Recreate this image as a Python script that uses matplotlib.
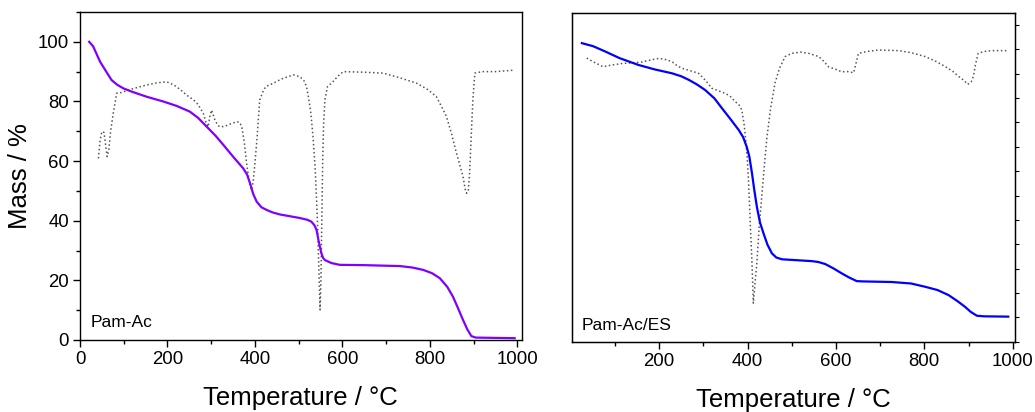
import numpy as np
import matplotlib
matplotlib.use("Agg")
import matplotlib.pyplot as plt
from matplotlib.ticker import MultipleLocator

plt.rcParams['font.family'] = ['Liberation Sans', 'DejaVu Sans']

# Pam-Ac: mass loss (TG) and derivative trace (DTG, drawn on the mass scale)
temp_a = [21, 30, 46, 60, 72, 85, 99, 120, 152, 190, 221, 251, 270, 290, 310, 328,
          350, 373, 382, 389, 396, 404, 415, 427, 440, 457, 480, 503, 520, 529, 536,
          541, 546, 552, 556, 560, 575, 594, 650, 700, 731, 760, 785, 805, 823, 840,
          853, 865, 876, 886, 895, 905, 950, 994]
mass_a = [100.0, 98.5, 93.3, 90.0, 87.2, 85.6, 84.4, 83.2, 81.6, 80.0, 78.5, 76.6, 74.5,
          71.5, 68.5, 65.4, 61.5, 57.6, 55.5, 52.5, 49.0, 46.4, 44.5, 43.6, 42.8, 42.1,
          41.5, 40.9, 40.3, 39.7, 38.5, 36.9, 33.0, 29.1, 27.5, 26.8, 25.8, 25.2, 25.1,
          24.9, 24.8, 24.3, 23.5, 22.4, 20.7, 17.8, 14.5, 10.5, 6.7, 3.5, 1.3, 0.8, 0.7, 0.6]

dtg_temp_a = [42, 46, 50, 55, 58, 62, 66, 70, 76, 84, 95, 114, 152, 175, 198, 215, 229,
              245, 259, 270, 282, 288, 293, 297, 301, 308, 315, 320, 330, 345, 358, 365,
              370, 376, 381, 387, 392, 396, 400, 405, 411, 419, 425, 442, 460, 488, 503,
              512, 518, 523, 528, 533, 538, 543, 547, 549, 551, 553, 555, 557, 560, 566,
              575, 590, 602, 650, 693, 730, 770, 795, 815, 826, 838, 850, 861, 870, 876,
              881, 884, 888, 891, 894, 897, 899, 903, 920, 950, 994]
dtg_a = [60.9, 67.0, 69.9, 69.6, 66.0, 61.5, 64.0, 70.0, 76.0, 82.8, 83.0, 84.0, 85.5,
         86.2, 86.6, 85.5, 84.0, 82.0, 80.6, 79.0, 76.0, 73.0, 71.5, 75.0, 77.1, 74.0,
         72.0, 71.5, 71.6, 72.5, 73.2, 73.0, 71.5, 66.0, 59.2, 53.0, 50.3, 53.0, 59.2,
         68.0, 80.5, 83.5, 85.0, 86.1, 87.5, 88.9, 88.3, 87.0, 85.0, 81.0, 76.0, 68.0,
         57.0, 40.0, 20.0, 10.1, 20.0, 40.0, 60.0, 72.0, 80.5, 85.0, 86.1, 88.5, 90.0,
         89.8, 89.5, 88.0, 86.1, 84.0, 81.6, 78.5, 75.0, 69.0, 62.6, 58.0, 54.8, 50.5,
         49.2, 50.0, 56.0, 66.0, 76.0, 81.6, 89.5, 90.0, 90.0, 90.5]

# Pam-Ac/ES
temp_b = [25, 50, 78, 110, 153, 190, 229, 250, 267, 285, 304, 325, 342, 360, 380, 390,
          398, 404, 410, 415, 421, 428, 436, 445, 455, 465, 478, 500, 545, 560, 576, 595,
          613, 630, 647, 660, 726, 770, 802, 830, 855, 875, 892, 905, 919, 935, 990]
mass_b = [100.0, 99.0, 97.2, 95.0, 92.7, 91.2, 89.9, 88.9, 87.7, 86.2, 84.3, 81.5, 78.2,
          74.8, 70.9, 68.5, 65.3, 62.0, 56.4, 51.0, 45.2, 40.0, 36.3, 32.5, 29.6, 28.2,
          27.6, 27.4, 27.0, 26.7, 26.0, 24.5, 22.9, 21.5, 20.3, 20.2, 20.0, 19.5, 18.4,
          17.3, 15.6, 13.6, 11.7, 10.0, 8.7, 8.5, 8.4]

dtg_temp_b = [36, 50, 73, 90, 116, 140, 161, 185, 199, 215, 229, 240, 251, 270, 289, 305,
              319, 335, 349, 360, 372, 380, 387, 392, 395, 399, 402, 406, 410, 413, 417,
              421, 426, 432, 438, 444, 452, 462, 472, 485, 500, 520, 538, 561, 572, 583,
              600, 613, 625, 640, 645, 651, 670, 696, 742, 770, 802, 825, 848, 865, 878,
              890, 898, 906, 911, 916, 922, 935, 952, 990]
dtg_b = [95.0, 93.8, 92.1, 92.6, 93.2, 93.4, 93.7, 94.5, 94.9, 94.5, 93.8, 92.5, 91.6,
         90.8, 89.9, 87.5, 84.9, 84.0, 83.2, 82.3, 80.4, 79.5, 77.6, 73.0, 68.7, 62.0,
         54.2, 40.0, 26.3, 12.9, 20.0, 26.3, 38.0, 48.6, 59.0, 68.7, 78.0, 86.6, 91.5,
         95.5, 96.6, 97.0, 96.6, 95.5, 94.0, 92.1, 91.2, 90.4, 90.5, 90.1, 93.0, 96.6,
         97.2, 97.7, 97.5, 96.8, 95.5, 94.0, 92.1, 90.5, 88.8, 87.5, 86.2, 87.0, 88.8,
         93.0, 96.6, 97.2, 97.5, 97.5]

fig = plt.figure(figsize=(10.35, 4.12), dpi=100)
ax1 = fig.add_axes([0.0773, 0.1748, 0.4267, 0.7961])
ax2 = fig.add_axes([0.5524, 0.1706, 0.4286, 0.7971])

ax1.plot(dtg_temp_a, dtg_a, ls=':', color='#555555', lw=1.1)
ax1.plot(temp_a, mass_a, color='#8000ff', lw=1.6)
ax2.plot(dtg_temp_b, dtg_b, ls=':', color='#555555', lw=1.1)
ax2.plot(temp_b, mass_b, color='#0000ff', lw=1.6)

for ax in (ax1, ax2):
    ax.set_ylim(0, 110)
    ax.xaxis.set_major_locator(MultipleLocator(200))
    ax.xaxis.set_minor_locator(MultipleLocator(100))
    ax.tick_params(axis='both', which='major', direction='out', length=5, width=1,
                   labelsize=13.4, pad=3)
    ax.tick_params(axis='both', which='minor', direction='out', length=3, width=1)
    ax.set_xlabel("Temperature / °C", fontsize=18.5, labelpad=13)
    for s in ax.spines.values():
        s.set_linewidth(1.0)

ax1.set_xlim(0, 1010)
ax1.yaxis.set_major_locator(MultipleLocator(20))
ax1.yaxis.set_minor_locator(MultipleLocator(10))
ax1.set_ylabel("Mass / %", fontsize=18.5, labelpad=4)
ax1.text(0.023, 0.04, "Pam-Ac", transform=ax1.transAxes, fontsize=12.5, va='baseline')

ax2.set_xlim(2, 1006)
ax2.set_yticks([])
ax2.text(0.022, 0.036, "Pam-Ac/ES", transform=ax2.transAxes, fontsize=12.5,
         va='baseline')

# unlabelled ticks on the right-hand axis of the second panel
ax2r = ax2.twinx()
ax2r.set_ylim(0, 13.48)
ax2r.set_yticks(np.arange(0, 14))
ax2r.tick_params(axis='y', direction='out', length=3, labelright=False)

fig.savefig("out.png", dpi=100)
